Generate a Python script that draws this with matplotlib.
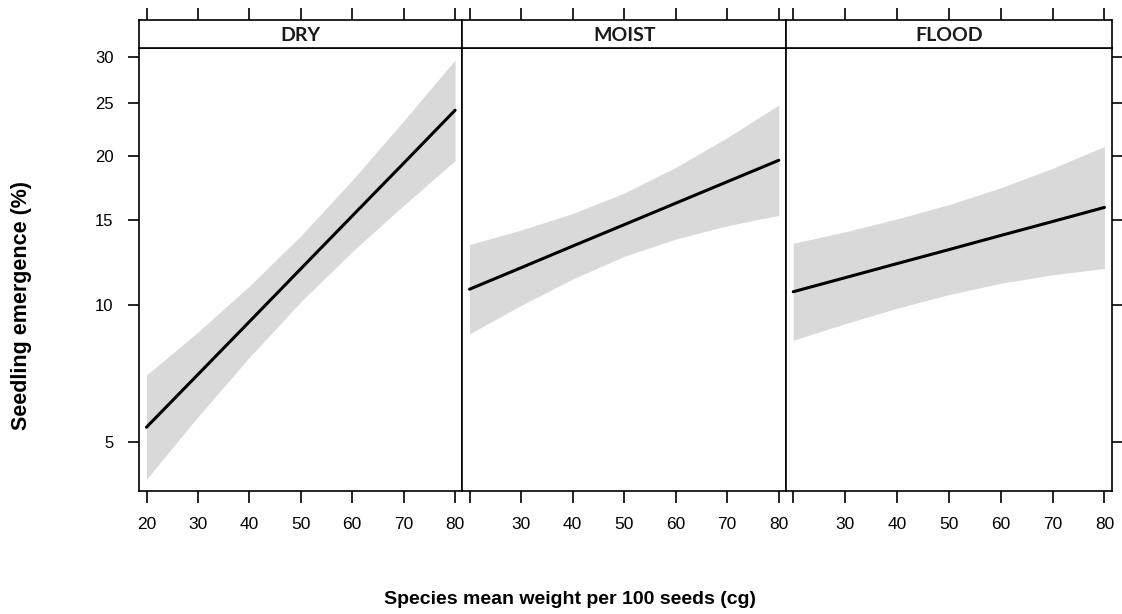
import numpy as np
import matplotlib.pyplot as plt

x_vals = [20, 30, 40, 50, 60, 70, 80]
panels = ["DRY", "MOIST", "FLOOD"]

# fitted emergence (%) and 95% band, per moisture treatment
dry_fit = [5.41, 7.08, 9.22, 11.93, 15.30, 19.40, 24.31]
dry_hi = [7.06, 8.76, 10.98, 13.95, 17.99, 23.26, 29.69]
dry_lo = [4.13, 5.71, 7.72, 10.17, 12.95, 16.06, 19.62]

moist_fit = [10.81, 11.99, 13.29, 14.69, 16.22, 17.87, 19.65]
moist_hi = [13.39, 14.33, 15.47, 16.98, 19.05, 21.67, 24.83]
moist_lo = [8.68, 9.99, 11.36, 12.66, 13.74, 14.62, 15.34]

flood_fit = [10.68, 11.43, 12.23, 13.07, 13.97, 14.91, 15.91]
flood_hi = [13.47, 14.21, 15.09, 16.11, 17.39, 18.97, 20.86]
flood_lo = [8.41, 9.13, 9.85, 10.53, 11.13, 11.59, 11.95]

y_ticks = [5, 10, 15, 20, 25, 30]
x_ticks = [20, 30, 40, 50, 60, 70, 80]

fits = [dry_fit, moist_fit, flood_fit]
his = [dry_hi, moist_hi, flood_hi]
los = [dry_lo, moist_lo, flood_lo]


def logit(y):
    p = np.clip(np.asarray(y, dtype=float) / 100.0, 1e-6, 1 - 1e-6)
    return np.log(p / (1 - p))


def inv_logit(z):
    return 100.0 / (1.0 + np.exp(-np.asarray(z, dtype=float)))


plt.rcParams['font.family'] = ['Liberation Sans', 'DejaVu Sans']

W, H = 1122, 614
fig = plt.figure(figsize=(W / 100, H / 100), dpi=100)

def fx(px):
    return px / W

def fy(py):
    return 1 - py / H

edges = [139.3, 462.3, 786.0, 1111.7]
top, bot = 47.7, 490.7
strip_top = 20.0
lw = 1.2
tick_len = 8.6

for i, name in enumerate(panels):
    l, r = edges[i], edges[i + 1]
    ax = fig.add_axes([fx(l), fy(bot), fx(r - l), (bot - top) / H])
    ax.set_yscale('function', functions=(logit, inv_logit))
    ax.fill_between(x_vals, los[i], his[i], color='#d9d9d9', lw=0)
    ax.plot(x_vals, fits[i], color='black', lw=2.2, solid_capstyle='round')
    ax.set_xlim(18.6, 81.4)
    ax.set_ylim(3.89, 31.1)
    for s in ax.spines.values():
        s.set_linewidth(lw)
    ax.set_xticks(x_ticks)
    labels = [str(t) for t in x_ticks]
    if i > 0:
        labels[0] = ''
    ax.set_xticklabels(labels)
    ax.tick_params(axis='x', direction='out', length=tick_len, width=lw,
                   pad=10.5, labelsize=12.5)
    ax.set_yticks(y_ticks)
    ax.minorticks_off()
    if i == 0:
        ax.set_yticklabels([str(t) for t in y_ticks])
        ax.tick_params(axis='y', direction='out', length=8, width=lw,
                       pad=10.5, labelsize=12)
    elif i == 2:
        ax.yaxis.tick_right()
        ax.set_yticklabels([])
        ax.tick_params(axis='y', direction='out', length=8, width=lw)
    else:
        ax.tick_params(axis='y', length=0, labelleft=False)

    st = fig.add_axes([fx(l), fy(top), fx(r - l), (top - strip_top) / H])
    st.set_xlim(18.6, 81.4)
    st.set_facecolor('white')
    for s in st.spines.values():
        s.set_linewidth(lw)
    st.set_yticks([])
    st.xaxis.tick_top()
    st.set_xticks(x_ticks)
    st.set_xticklabels([])
    st.tick_params(axis='x', direction='out', length=tick_len, width=lw)
    st.text(0.5, 0.45, name, transform=st.transAxes, ha='center', va='center',
            fontsize=14, fontweight='bold', family=['Lato', 'DejaVu Sans'],
            color='#1a1a1a')

fig.text(fx(22), fy(306), 'Seedling emergence (%)', rotation=90,
         ha='center', va='center', fontsize=15.5, fontweight='bold')
fig.text(fx(570), fy(600), 'Species mean weight per 100 seeds (cg)',
         ha='center', va='center', fontsize=14, fontweight='bold')

fig.savefig('out.png', dpi=100)
